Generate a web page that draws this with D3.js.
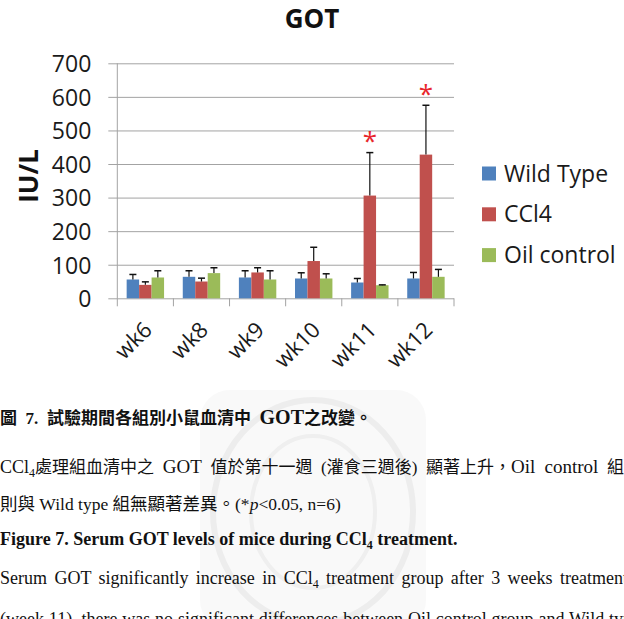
<!DOCTYPE html>
<html>
<head>
<meta charset="utf-8">
<script src="https://cdn.jsdelivr.net/npm/d3@7"></script>
<style>
  body { margin: 0; background: #fff; }
  svg { display: block; }
</style>
</head>
<body>
<script>
// values
const categories = ["wk6", "wk8", "wk9", "wk10", "wk11", "wk12"];
const seriesNames = ["Wild Type", "CCl4", "Oil control"];
const seriesColors = ["#4F81BD", "#C0504D", "#9BBB59"];
const wildType = [56, 64, 62, 59, 47, 59];
const wildTypeErr = [15, 18, 20, 17, 12, 18];
const ccl4 = [40, 50, 77, 111, 306, 428];
const ccl4Err = [9, 10, 14, 41, 128, 147];
const oilControl = [62, 75, 56, 59, 39, 64];
const oilControlErr = [20, 16, 26, 14, 1, 22];
const significant = [false, false, false, false, true, true];
const yTicks = [0, 100, 200, 300, 400, 500, 600, 700];

const width = 624, height = 619;
const plotLeft = 117.3, plotRight = 454, plotTop = 63.3, plotBottom = 298.3;

var svg = d3.select("body").append("svg")
    .attr("width", width)
    .attr("height", height);

svg.append("rect").attr("width", width).attr("height", height).attr("fill", "#fff");

// faint seal watermark behind the caption
var seal = svg.append("g").attr("opacity", 0.45);
seal.append("rect")
    .attr("x", 200).attr("y", 390).attr("width", 226).attr("height", 240)
    .attr("rx", 30)
    .attr("fill", "#f3f3f3");
seal.append("ellipse")
    .attr("cx", 313).attr("cy", 512).attr("rx", 100).attr("ry", 112)
    .attr("fill", "none").attr("stroke", "#d8d8d8").attr("stroke-width", 6);
seal.append("ellipse")
    .attr("cx", 313).attr("cy", 512).attr("rx", 62).attr("ry", 76)
    .attr("fill", "none").attr("stroke", "#dcdcdc").attr("stroke-width", 4);

var x0 = d3.scaleBand().domain(categories).range([plotLeft, plotRight]);
var x1 = d3.scaleBand().domain(seriesNames).range([0, x0.bandwidth()]).paddingOuter(0.75);
var y = d3.scaleLinear().domain([0, 700]).range([plotBottom, plotTop]);

// title
svg.append("text")
    .attr("x", 312).attr("y", 28)
    .attr("text-anchor", "middle")
    .attr("font-family", "Open Sans")
    .attr("font-weight", "bold")
    .attr("font-size", 26)
    .attr("fill", "#111")
    .text("GOT");

// y axis with grid
var yAxis = svg.append("g")
    .attr("transform", "translate(" + plotLeft + ",0)")
    .call(d3.axisLeft(y).tickValues(yTicks).tickSizeInner(-(plotRight - plotLeft)).tickSizeOuter(0).tickPadding(26));
yAxis.select(".domain").remove();
yAxis.selectAll(".tick line")
    .attr("x1", -9)
    .attr("stroke", "#a3a3a3");
yAxis.selectAll(".tick text")
    .attr("font-family", "Open Sans")
    .attr("font-size", 23)
    .attr("fill", "#1a1a1a")
    .attr("dy", "0.36em");

svg.append("line")
    .attr("x1", plotLeft).attr("x2", plotLeft)
    .attr("y1", plotTop).attr("y2", plotBottom)
    .attr("stroke", "#a3a3a3");

// category separators below the axis
svg.selectAll(".cat-tick")
    .data(categories.concat(["end"]))
    .enter().append("line")
    .attr("class", "cat-tick")
    .attr("x1", function(d, i) { return plotLeft + i * x0.step(); })
    .attr("x2", function(d, i) { return plotLeft + i * x0.step(); })
    .attr("y1", plotBottom)
    .attr("y2", plotBottom + 8)
    .attr("stroke", "#a3a3a3");

svg.selectAll(".x-label")
    .data(categories)
    .enter().append("text")
    .attr("class", "x-label")
    .attr("text-anchor", "end")
    .attr("font-family", "Open Sans")
    .attr("font-size", 22)
    .attr("fill", "#1a1a1a")
    .attr("transform", function(d) {
        return "translate(" + (x0(d) + x0.bandwidth() / 2 + 8) + "," + (plotBottom + 33) + ") rotate(-45)";
    })
    .text(function(d) { return d; });

// y axis title
svg.append("text")
    .attr("transform", "translate(38,176) rotate(-90)")
    .attr("text-anchor", "middle")
    .attr("font-family", "Open Sans")
    .attr("font-weight", "bold")
    .attr("font-size", 26)
    .attr("fill", "#111")
    .text("IU/L");

// bars
var values = [wildType, ccl4, oilControl];
var errors = [wildTypeErr, ccl4Err, oilControlErr];
var rows = [];
categories.forEach(function(c, i) {
    seriesNames.forEach(function(s, j) {
        rows.push({ cat: c, series: s, color: seriesColors[j], value: values[j][i], err: errors[j][i], sig: j == 1 && significant[i] });
    });
});

var bars = svg.selectAll(".bar-group")
    .data(rows)
    .enter().append("g")
    .attr("transform", function(d) { return "translate(" + (x0(d.cat) + x1(d.series)) + ",0)"; });

bars.append("rect")
    .attr("x", 0)
    .attr("y", function(d) { return y(d.value); })
    .attr("width", x1.bandwidth())
    .attr("height", function(d) { return plotBottom - y(d.value); })
    .attr("fill", function(d) { return d.color; });

var bw = x1.bandwidth();
bars.append("line")
    .attr("x1", bw / 2).attr("x2", bw / 2)
    .attr("y1", function(d) { return y(d.value); })
    .attr("y2", function(d) { return y(d.value + d.err); })
    .attr("stroke", "#111").attr("stroke-width", 1.2);
bars.append("line")
    .attr("x1", bw / 2 - 3.5).attr("x2", bw / 2 + 3.5)
    .attr("y1", function(d) { return y(d.value + d.err); })
    .attr("y2", function(d) { return y(d.value + d.err); })
    .attr("stroke", "#111").attr("stroke-width", 1.5);

bars.filter(function(d) { return d.sig; })
    .append("text")
    .attr("x", bw / 2)
    .attr("y", function(d) { return y(d.value + d.err + 45) + 13; })
    .attr("text-anchor", "middle")
    .attr("font-family", "Open Sans")
    .attr("font-size", 26)
    .attr("fill", "#E8262C")
    .text("*");

// legend
var legend = svg.selectAll(".legend")
    .data(seriesNames)
    .enter().append("g")
    .attr("transform", function(d, i) { return "translate(482," + (166.5 + i * 40.8) + ")"; });
legend.append("rect")
    .attr("width", 14).attr("height", 14)
    .attr("fill", function(d, i) { return seriesColors[i]; });
legend.append("text")
    .attr("x", 22).attr("y", 15)
    .attr("font-family", "Open Sans")
    .attr("font-size", 23)
    .attr("fill", "#1a1a1a")
    .text(function(d) { return d; });

// caption text under the chart
var serif = "'Liberation Serif', 'Noto Sans CJK TC', serif";

// stretch a line to a width: word gaps first (capped), the rest between letters
function justify(t, target, maxWord) {
    var len = t.node().getComputedTextLength();
    var str = t.text();
    var gaps = (str.match(/ /g) || []).length;
    var spread = target - len;
    var ws = gaps > 0 ? Math.min(spread / gaps, maxWord) : 0;
    t.attr("word-spacing", ws);
    var rest = spread - ws * gaps;
    if (rest > 0) t.attr("letter-spacing", rest / (str.length - 1));
}

var line1 = svg.append("text")
    .attr("x", 0).attr("y", 424)
    .attr("font-family", serif).attr("font-size", 17).attr("font-weight", "bold")
    .attr("fill", "#111");
line1.append("tspan").text("圖 7. 試驗期間各組別小鼠血清中 ");
line1.append("tspan").attr("font-size", 20).text("GOT");
line1.append("tspan").text("之改變。");

var line2 = svg.append("text")
    .attr("x", 0).attr("y", 473)
    .attr("font-family", serif).attr("font-size", 17)
    .attr("fill", "#111");
line2.append("tspan").attr("font-size", 18).text("CCl");
line2.append("tspan").attr("font-size", 12).attr("dy", 4).text("4");
line2.append("tspan").attr("dy", -4).text("處理組血清中之 ");
line2.append("tspan").attr("font-size", 19).text("GOT");
line2.append("tspan").text(" 值於第十一週 (灌食三週後) 顯著上升，");
line2.append("tspan").attr("font-size", 19).text("Oil control");
line2.append("tspan").text(" 組");

var line3 = svg.append("text")
    .attr("x", 0).attr("y", 510)
    .attr("font-family", serif).attr("font-size", 17.5)
    .attr("fill", "#111");
line3.append("tspan").text("則與 Wild type 組無顯著差異。(*");
line3.append("tspan").attr("font-style", "italic").text("p");
line3.append("tspan").text("<0.05, n=6)");

var line4 = svg.append("text")
    .attr("x", 0).attr("y", 545)
    .attr("font-family", serif).attr("font-size", 18).attr("font-weight", "bold")
    .attr("fill", "#111");
line4.append("tspan").text("Figure 7. Serum GOT levels of mice during CCl");
line4.append("tspan").attr("font-size", 12).attr("dy", 4).text("4");
line4.append("tspan").attr("dy", -4).text(" treatment.");

var line5 = svg.append("text")
    .attr("x", 0).attr("y", 584)
    .attr("font-family", serif).attr("font-size", 18)
    .attr("fill", "#111");
line5.append("tspan").text("Serum GOT significantly increase in CCl");
line5.append("tspan").attr("font-size", 12).attr("dy", 4).text("4");
line5.append("tspan").attr("dy", -4).text(" treatment group after 3 weeks treatment");

var line6 = svg.append("text")
    .attr("x", 0).attr("y", 625)
    .attr("font-family", serif).attr("font-size", 18)
    .attr("fill", "#111")
    .text("(week 11), there was no significant differences between Oil control group and Wild type");

justify(line1, 372, 6);
justify(line2, 624, 8);
justify(line5, 628, 40);
justify(line6, 640, 40);
</script>
</body>
</html>
